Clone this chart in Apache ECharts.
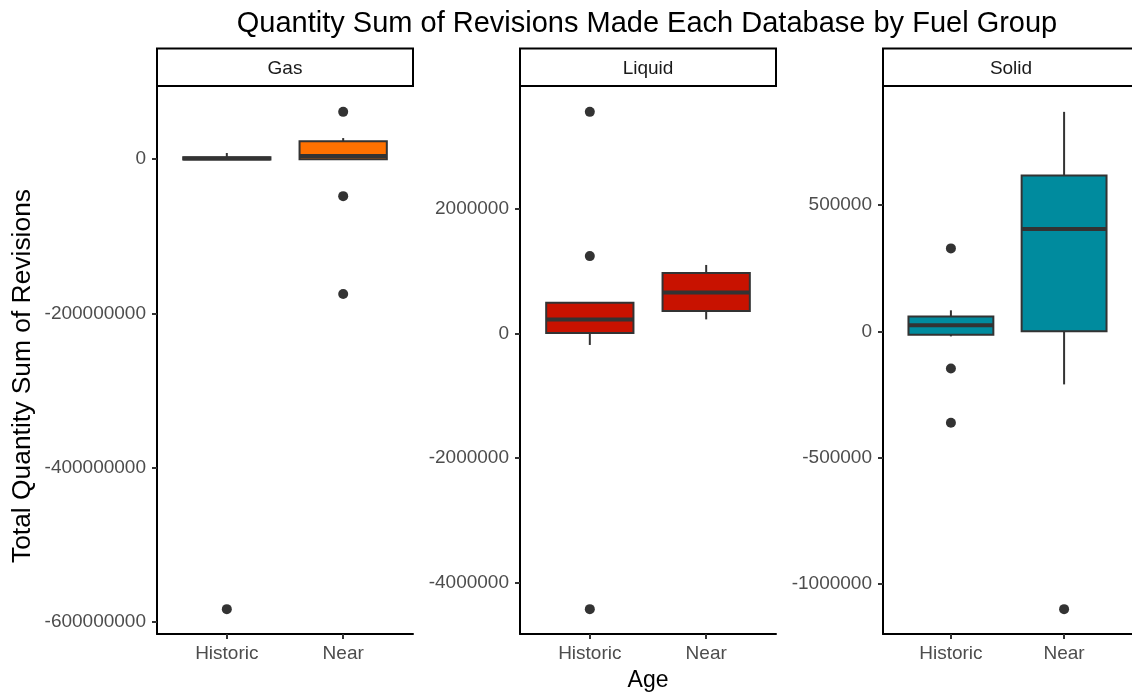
<!DOCTYPE html>
<html>
<head>
<meta charset="utf-8">
<title>Quantity Sum of Revisions</title>
<script src="https://cdn.jsdelivr.net/npm/echarts@6.0.0/dist/echarts.min.js"></script>
<style>
  html, body { margin: 0; padding: 0; background: #fff; }
  #chart { width: 1132px; height: 698px; }
</style>
</head>
<body>
<div id="chart"></div>
<script>
const ages = ["Historic", "Near"];
const fuels = ["Gas", "Liquid", "Solid"];
const fuelColors = ["#FF7100", "#C81200", "#008B9E"];

// [low whisker, Q1, median, Q3, high whisker], one row per age
const gasBoxes = [
  [-1000000, -500000, 800000, 2500000, 8000000],
  [-500000, 0, 4000000, 23300000, 27400000]
];
const liquidBoxes = [
  [-187000, 5000, 224000, 490000, 500000],
  [224000, 357000, 656000, 970000, 1098000]
];
const solidBoxes = [
  [-20000, -14000, 24000, 59000, 83000],
  [-210000, 0, 405000, 616000, 868000]
];

// [age position, value]
const gasOutliers = [[1, -584000000], [2, 61400000], [2, -48000000], [2, -175000000]];
const liquidOutliers = [[1, 3557000], [1, 1240000], [1, -4430000]];
const solidOutliers = [[1, 328000], [1, -147000], [1, -362000], [2, -1099000]];

// y tick labels per panel
const gasTicks = [0, -200000000, -400000000, -600000000];
const liquidTicks = [2000000, 0, -2000000, -4000000];
const solidTicks = [500000, 0, -500000, -1000000];

const panels = [
  { boxes: gasBoxes, outliers: gasOutliers, ticks: gasTicks, left: 157 },
  { boxes: liquidBoxes, outliers: liquidOutliers, ticks: liquidTicks, left: 520 },
  { boxes: solidBoxes, outliers: solidOutliers, ticks: solidTicks, left: 883 }
];

const FONT = "'Liberation Sans', Arial, sans-serif";
const panelTop = 87;
const panelW = 256;
const panelH = 547;

// ggplot-like 5% expansion of the data range
function yRange(boxes, outliers) {
  const vals = boxes.flat().concat(outliers.map(o => o[1]));
  const lo = Math.min(...vals);
  const hi = Math.max(...vals);
  const pad = (hi - lo) * 0.05;
  return [lo - pad, hi + pad];
}

function renderBox(params, api) {
  const x = api.value(0);
  const low = api.coord([x, api.value(1)]);
  const q1 = api.coord([x, api.value(2)]);
  const med = api.coord([x, api.value(3)]);
  const q3 = api.coord([x, api.value(4)]);
  const high = api.coord([x, api.value(5)]);
  const half = api.size([0.75, 0])[0] / 2;
  const stroke = "#333333";
  return {
    type: "group",
    children: [
      { type: "line", shape: { x1: low[0], y1: low[1], x2: q1[0], y2: q1[1] },
        style: { stroke: stroke, lineWidth: 2 } },
      { type: "line", shape: { x1: q3[0], y1: q3[1], x2: high[0], y2: high[1] },
        style: { stroke: stroke, lineWidth: 2 } },
      { type: "rect", shape: { x: q3[0] - half, y: q3[1], width: half * 2, height: q1[1] - q3[1] },
        style: { fill: api.visual("color"), stroke: stroke, lineWidth: 2 } },
      { type: "line", shape: { x1: med[0] - half, y1: med[1], x2: med[0] + half, y2: med[1] },
        style: { stroke: stroke, lineWidth: 4 } }
    ]
  };
}

const grids = [];
const xAxes = [];
const yAxes = [];
const series = [];
const graphics = [];

panels.forEach((p, i) => {
  const [ymin, ymax] = yRange(p.boxes, p.outliers);
  grids.push({ left: p.left, top: panelTop, width: panelW, height: panelH });
  xAxes.push({
    gridIndex: i,
    type: "value",
    min: 0.4,
    max: 2.6,
    splitLine: { show: false },
    axisLine: { show: true, onZero: false, lineStyle: { color: "#000", width: 2 } },
    axisTick: { show: true, customValues: [1, 2], length: 5, lineStyle: { color: "#333", width: 2 } },
    axisLabel: {
      customValues: [1, 2],
      formatter: v => ages[Math.round(v) - 1],
      color: "#4d4d4d", fontSize: 19, fontFamily: FONT, margin: 10
    }
  });
  yAxes.push({
    gridIndex: i,
    type: "value",
    min: ymin,
    max: ymax,
    splitLine: { show: false },
    axisLine: { show: true, onZero: false, lineStyle: { color: "#000", width: 2 } },
    axisTick: { show: true, customValues: p.ticks, length: 5, lineStyle: { color: "#333", width: 2 } },
    axisLabel: {
      customValues: p.ticks,
      formatter: v => String(Math.round(v)),
      color: "#4d4d4d", fontSize: 19, fontFamily: FONT, margin: 11
    }
  });
  series.push({
    type: "custom",
    name: fuels[i],
    xAxisIndex: i,
    yAxisIndex: i,
    itemStyle: { color: fuelColors[i] },
    encode: { x: 0, y: [1, 2, 3, 4, 5] },
    data: p.boxes.map((b, k) => [k + 1].concat(b)),
    renderItem: renderBox,
    z: 2
  });
  series.push({
    type: "scatter",
    xAxisIndex: i,
    yAxisIndex: i,
    symbolSize: 10,
    itemStyle: { color: "#333333", opacity: 1 },
    data: p.outliers,
    z: 3
  });
  // facet strip
  graphics.push({
    type: "rect",
    shape: { x: p.left, y: 48.5, width: panelW, height: 37.5 },
    style: { fill: "#fff", stroke: "#000", lineWidth: 2 }
  });
  graphics.push({
    type: "text",
    x: p.left + panelW / 2,
    y: 69,
    style: { text: fuels[i], align: "center", verticalAlign: "middle",
      fill: "#1a1a1a", fontSize: 19, fontFamily: FONT }
  });
});

graphics.push({
  type: "text",
  x: 23, y: 376,
  rotation: Math.PI / 2,
  style: { text: "Total Quantity Sum of Revisions", align: "center", verticalAlign: "middle",
    fill: "#000", fontSize: 26.4, fontFamily: FONT }
});
graphics.push({
  type: "text",
  x: 648, y: 681,
  style: { text: "Age", align: "center", verticalAlign: "middle",
    fill: "#000", fontSize: 23, fontFamily: FONT }
});

const chart = echarts.init(document.getElementById("chart"));
chart.setOption({
  backgroundColor: "#fff",
  animation: false,
  title: {
    text: "Quantity Sum of Revisions Made Each Database by Fuel Group",
    left: 642,
    textAlign: "center",
    top: 4,
    textStyle: { fontSize: 29, fontWeight: "normal", color: "#000", fontFamily: FONT }
  },
  grid: grids,
  xAxis: xAxes,
  yAxis: yAxes,
  series: series,
  graphic: graphics
});

window.addEventListener("resize", () => chart.resize());
</script>
</body>
</html>
